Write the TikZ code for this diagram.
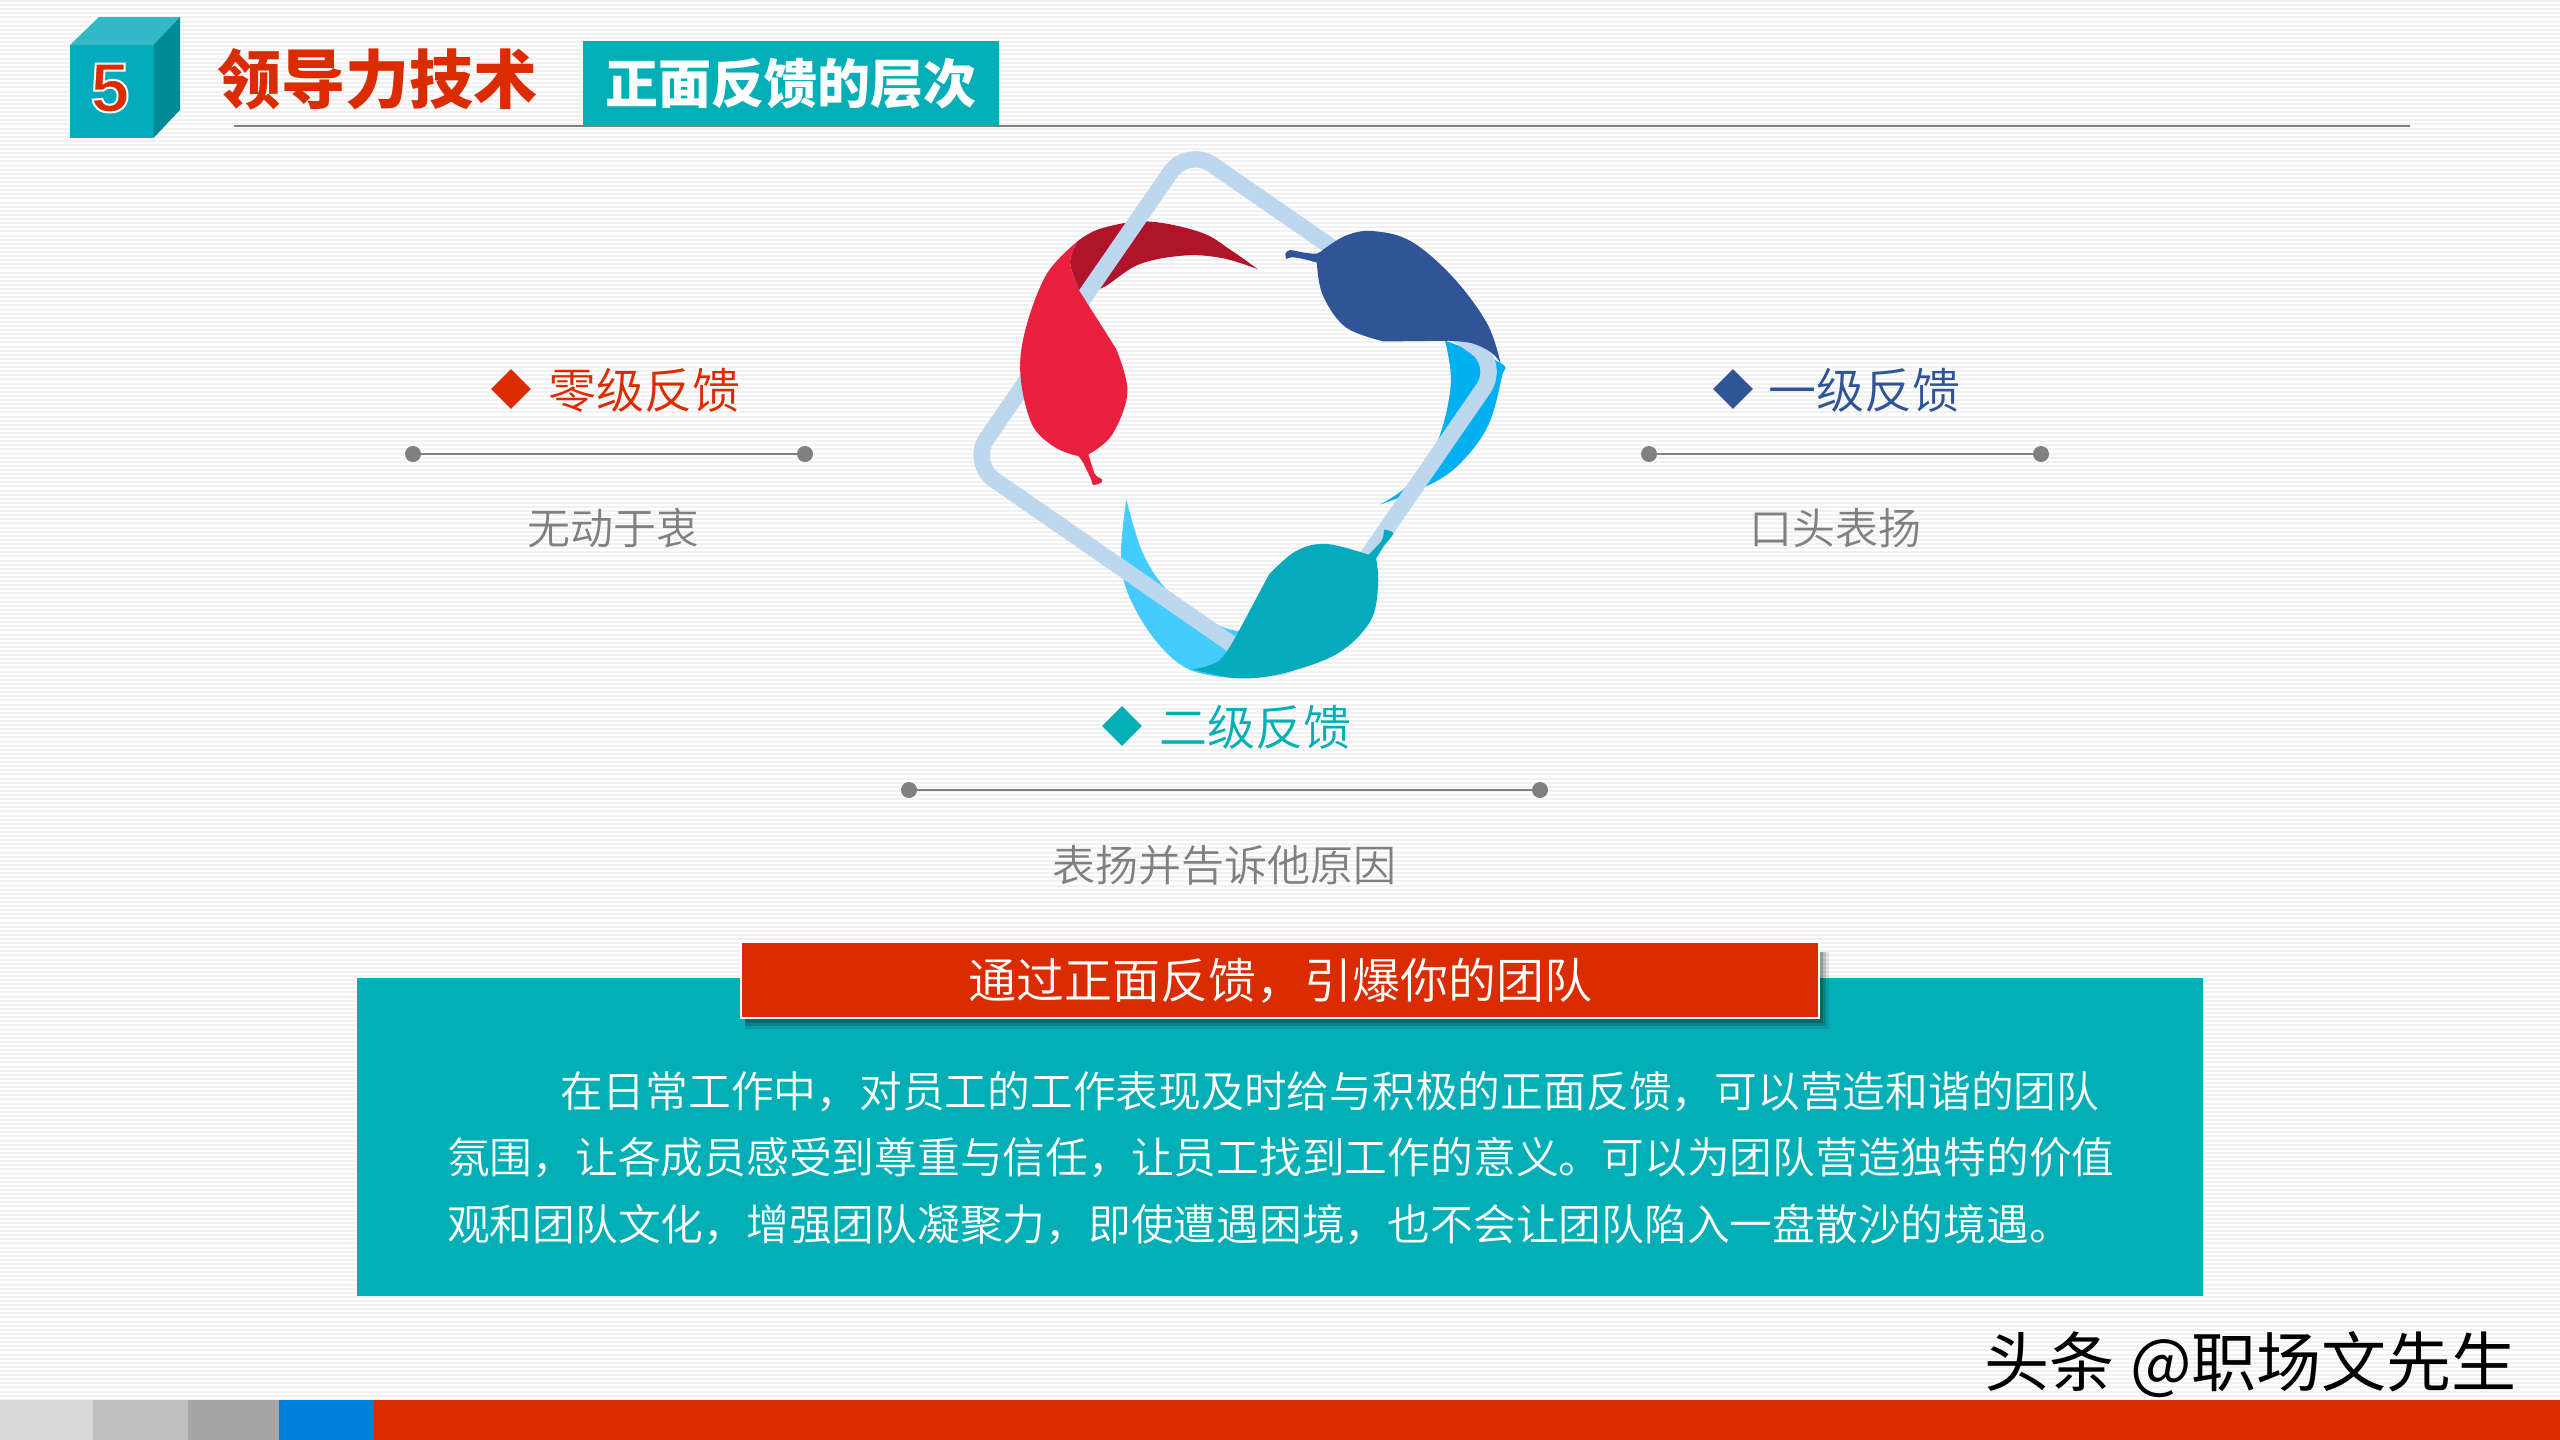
\documentclass[tikz,border=0pt]{standalone}
\usepackage{fontspec}
\setmainfont{Noto Sans CJK SC}[UprightFont={* DemiLight},BoldFont={* Black}]
\newfontfamily\cjkr{Noto Sans CJK SC}
\newfontfamily\numf{Liberation Sans Bold}
\newcommand\st{\rule[-.12em]{0pt}{1em}}
\definecolor{redc}{HTML}{DA2C00}
\definecolor{tealc}{HTML}{03AFB6}
\definecolor{teald}{HTML}{03ABBD}
\definecolor{cubetop}{HTML}{33B9C6}
\definecolor{cubeside}{HTML}{008A96}
\definecolor{barblue}{HTML}{0080D8}
\definecolor{navy}{HTML}{2F5597}
\definecolor{grayc}{HTML}{808080}
\definecolor{frame}{HTML}{BDD7EE}
\definecolor{lfred}{HTML}{E9213F}
\definecolor{lfdark}{HTML}{B0142A}
\definecolor{lfblue}{HTML}{00B0F0}
\definecolor{lfcyan}{HTML}{45CCFF}
\definecolor{lfteal}{HTML}{05ABBD}
\usetikzlibrary{shapes.geometric}
\tikzset{
  txt/.style={inner sep=0pt,outer sep=0pt},
  dotn/.style={circle,fill=grayc,minimum size=8pt,inner sep=0pt},
  rulel/.style={draw=grayc,line width=1.4pt},
  stripe/.style={draw=black!5.5,line width=1pt},
  head/.style={txt,font=\fontsize{24pt}{24pt}\selectfont},
  sub/.style={txt,text=grayc,font=\fontsize{21.5pt}{21.5pt}\selectfont},
  body/.style={txt,anchor=west,text=white,font=\fontsize{21.38pt}{21.38pt}\selectfont},
  dia/.style={diamond,aspect=1,minimum size=20pt,inner sep=0pt},
}
\begin{document}
\begin{tikzpicture}[x=0.5pt,y=-0.5pt]
\useasboundingbox (0,0) rectangle (2560,1440);
\fill[white] (0,0) rectangle (2560,1440);
\foreach \i in {0,...,350} \draw[stripe] (0,\i*4.114+1) -- (2560,\i*4.114+1);

% bottom bar
\fill[black!15] (0,1400) rectangle (93,1440);
\fill[black!25] (93,1400) rectangle (188,1440);
\fill[black!35] (188,1400) rectangle (279,1440);
\fill[barblue] (279,1400) rectangle (374,1440);
\fill[redc] (374,1400) rectangle (2560,1440);

% cube
\fill[teald] (70,45) rectangle (153.5,138);
\fill[cubetop] (70,45) -- (99,17) -- (180,17) -- (153.5,45) -- cycle;
\fill[cubeside] (153.5,45) -- (180,17) -- (180,110) -- (153.5,138) -- cycle;
\node[txt,text=redc,font=\numf\fontsize{35pt}{35pt}\selectfont] (five) at (110,88)
  {\special{pdf:code 2 Tr 1 1 1 RG 1.0 w}5\special{pdf:code 0 Tr}};

% title
\coordinate (tl) at (234,126);
\coordinate (tr) at (2410,126);
\draw[rulel,line width=1pt] (tl) -- (tr);
\node[txt,anchor=center,text=redc,font=\bfseries\fontsize{32pt}{32pt}\selectfont] (title) at (377,79) {\st 领导力技术};
\node[txt,fill=tealc,minimum width=208pt,minimum height=42pt,text=white,font=\bfseries\fontsize{26.5pt}{26.5pt}\selectfont] (subtitle) at (791,83) {\st 正面反馈的层次};

% leaves behind frame
\begin{scope}[shift={(940,130)},x=0.1913pt,y=-0.1792pt]
\fill[lfdark] plot[smooth,tension=.6] coordinates {(360,310) (420,275) (540,255) (680,285) (760,335) (830,388)}
  -- plot[smooth,tension=.6] coordinates {(830,388) (740,358) (640,350) (520,375) (425,440) (365,450)}
  -- plot[smooth,tension=.6] coordinates {(365,450) (340,370) (360,310)} -- cycle;
\fill[lfblue] plot[smooth,tension=.6] coordinates {(1320,588) (1465,650) (1468,690) (1430,830) (1350,940) (1260,1000) (1150,1045)}
  -- plot[smooth,tension=.6] coordinates {(1150,1045) (1230,985) (1300,870) (1335,710) (1320,588)} -- cycle;
\fill[lfcyan] plot[smooth,tension=.6] coordinates {(487,1030) (473,1180) (490,1290) (560,1420) (650,1505) (770,1530)}
  -- (800,1400)
  -- plot[smooth,tension=.6] coordinates {(790,1400) (720,1378) (600,1290) (530,1180) (487,1030)} -- cycle;
% frame
\draw[frame,line width=8.2pt,rounded corners=15pt,line join=round] (647,49) -- (1464.5,653) -- (895.5,1533) -- (78,929) -- cycle;
% leaves in front of frame
\fill[lfred] plot[smooth,tension=.6] coordinates {(360,310) (280,400) (225,550) (210,680) (240,820) (300,885) (362,910)}
  -- plot[smooth,tension=.5] coordinates {(362,910) (375,930) (395,975) (400,990) (420,985) (424,975) (405,960) (388,905)}
  -- plot[smooth,tension=.6] coordinates {(388,905) (450,850) (490,730) (460,610)}
  -- (365,450)
  -- plot[smooth,tension=.6] coordinates {(365,450) (340,370) (360,310)} -- cycle;
\fill[navy] plot[smooth,tension=.5] coordinates {(905,360) (903,345) (915,335) (950,342) (985,345) (1000,335)}
  -- plot[smooth,tension=.6] coordinates {(1000,335) (1060,295) (1130,282) (1230,310) (1340,410) (1430,540) (1465,650)}
  -- plot[smooth,tension=.6] coordinates {(1465,650) (1440,620) (1390,595) (1330,588)}
  -- (1160,590)
  -- plot[smooth,tension=.6] coordinates {(1160,590) (1060,550) (1000,460) (985,370)}
  -- plot[smooth,tension=.5] coordinates {(985,370) (950,360) (920,355) (905,360)} -- cycle;
\fill[lfteal] plot[smooth,tension=.5] coordinates {(1160,1115) (1185,1125) (1160,1160) (1140,1195)}
  -- plot[smooth,tension=.6] coordinates {(1140,1195) (1145,1270) (1125,1370) (1040,1460) (900,1515) (780,1530) (660,1505)}
  -- plot[smooth,tension=.6] coordinates {(660,1505) (730,1480) (780,1400)}
  -- (860,1240)
  -- plot[smooth,tension=.6] coordinates {(860,1240) (930,1175) (1010,1155) (1120,1185)}
  -- plot[smooth,tension=.5] coordinates {(1120,1185) (1155,1145) (1160,1115)} -- cycle;
\end{scope}

% labels left
\node[dia,fill=redc] (d0) at (511,389) {};
\node[head,text=redc] (h0) at (644,390) {\st 零级反馈};
\node[dotn] (a0) at (413,454) {};
\node[dotn] (b0) at (805,454) {};
\draw[rulel] (a0) -- (b0);
\node[sub] (s0) at (613,528) {\st 无动于衷};
% labels right
\node[dia,fill=navy] (d1) at (1733,389) {};
\node[head,text=navy] (h1) at (1864,390) {\st 一级反馈};
\node[dotn] (a1) at (1649,454) {};
\node[dotn] (b1) at (2041,454) {};
\draw[rulel] (a1) -- (b1);
\node[sub] (s1) at (1835,528) {\st 口头表扬};
% labels bottom
\node[dia,fill=tealc] (d2) at (1122,726) {};
\node[head,text=tealc] (h2) at (1255,727) {\st 二级反馈};
\node[dotn] (a2) at (909,790) {};
\node[dotn] (b2) at (1540,790) {};
\draw[rulel] (a2) -- (b2);
\node[sub] (s2) at (1224,865) {\st 表扬并告诉他原因};

% panel
\node[txt,fill=tealc,minimum width=923pt,minimum height=159pt] (panel) at (1280,1137) {};
\foreach \o/\a in {10/.10,7/.15,4/.2}
  \fill[black,opacity=\a] (745,952) rectangle (1819+\o,1019+\o);
\node[txt,fill=redc,draw=white,line width=1.2pt,minimum width=539pt,minimum height=38pt,text=white,font=\fontsize{24pt}{24pt}\selectfont] (banner) at (1280,980) {\st 通过正面反馈，引爆你的团队};
\node[body] (l1) at (560,1091) {\st 在日常工作中，对员工的工作表现及时给与积极的正面反馈，可以营造和谐的团队};
\node[body] (l2) at (447,1157) {\st 氛围，让各成员感受到尊重与信任，让员工找到工作的意义。可以为团队营造独特的价值};
\node[body] (l3) at (447,1224) {\st 观和团队文化，增强团队凝聚力，即使遭遇困境，也不会让团队陷入一盘散沙的境遇。};

% watermark
\node[txt,anchor=west,text=black,font=\cjkr\fontsize{32.5pt}{32.5pt}\selectfont] (wm) at (1984,1364) {\st 头条\hspace{8pt}@职场文先生};
\end{tikzpicture}
\end{document}
